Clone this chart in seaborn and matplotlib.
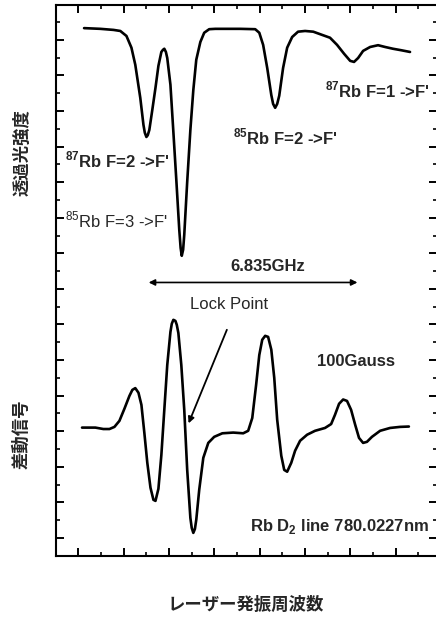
import numpy as np
import matplotlib
matplotlib.use('Agg')
import matplotlib.pyplot as plt
from matplotlib.ticker import MultipleLocator
import seaborn as sns

# transmission spectrum (upper trace), x in minor-tick units, y in major-tick units
trans_x = [1.26, 1.98, 2.56, 2.86, 3.13, 3.35, 3.52, 3.74, 3.88, 3.94,
           4.01, 4.07, 4.14, 4.27, 4.41, 4.54, 4.67, 4.74, 4.80, 4.87,
           4.93, 5.07, 5.20, 5.33, 5.46, 5.52, 5.57, 5.63, 5.68, 5.81,
           5.95, 6.08, 6.21, 6.39, 6.56, 6.78, 7.05, 8.15, 8.81, 8.99,
           9.16, 9.34, 9.52, 9.60, 9.69, 9.78, 9.87, 10.04, 10.22, 10.44,
           10.70, 11.01, 11.37, 11.76, 12.11, 12.42, 12.73, 13.00, 13.17, 13.35,
           13.57, 13.88, 14.23, 14.54, 14.89, 15.24, 15.64]
trans_y = [14.33, 14.31, 14.28, 14.25, 14.11, 13.78, 13.30, 12.37, 11.61, 11.39,
           11.27, 11.32, 11.47, 12.03, 12.65, 13.27, 13.66, 13.72, 13.75, 13.66,
           13.49, 12.74, 11.41, 10.06, 8.66, 8.15, 7.93, 8.10, 8.52, 10.01,
           11.47, 12.59, 13.44, 13.94, 14.20, 14.30, 14.31, 14.31, 14.30, 14.20,
           13.86, 13.21, 12.45, 12.20, 12.09, 12.20, 12.43, 13.21, 13.78, 14.08,
           14.23, 14.25, 14.23, 14.14, 14.06, 13.86, 13.61, 13.41, 13.38, 13.49,
           13.69, 13.80, 13.85, 13.80, 13.75, 13.71, 13.66]

# differential signal (lower trace)
diff_x = [1.17, 1.76, 2.11, 2.38, 2.60, 2.82, 3.04, 3.26, 3.39, 3.52,
          3.66, 3.79, 3.92, 4.05, 4.19, 4.32, 4.41, 4.54, 4.67, 4.80,
          4.93, 5.07, 5.13, 5.20, 5.29, 5.35, 5.42, 5.55, 5.68, 5.81,
          5.95, 6.01, 6.08, 6.15, 6.21, 6.34, 6.52, 6.74, 7.00, 7.36,
          7.84, 8.28, 8.50, 8.68, 8.85, 8.99, 9.12, 9.25, 9.38, 9.52,
          9.65, 9.78, 9.96, 10.09, 10.22, 10.40, 10.57, 10.79, 11.10, 11.45,
          11.89, 12.16, 12.33, 12.51, 12.69, 12.86, 13.04, 13.22, 13.39, 13.57,
          13.74, 13.96, 14.32, 14.76, 15.20, 15.59]
diff_y = [3.10, 3.10, 3.06, 3.06, 3.12, 3.29, 3.63, 3.99, 4.16, 4.21,
          4.08, 3.74, 2.95, 2.11, 1.41, 1.07, 1.04, 1.38, 2.33, 3.60,
          4.86, 5.79, 6.02, 6.13, 6.10, 5.99, 5.76, 4.86, 3.60, 1.91,
          0.56, 0.28, 0.14, 0.25, 0.51, 1.35, 2.25, 2.67, 2.84, 2.94,
          2.96, 2.94, 3.01, 3.37, 4.30, 5.14, 5.57, 5.68, 5.65, 5.29,
          4.50, 3.32, 2.31, 1.91, 1.86, 2.11, 2.45, 2.73, 2.90, 3.01,
          3.09, 3.20, 3.46, 3.77, 3.89, 3.85, 3.60, 3.18, 2.81, 2.67,
          2.70, 2.84, 3.01, 3.09, 3.12, 3.13]

# line labels: (text, x, y, weight)
line_labels = [
    (r"$^{\mathbf{87}}$Rb F=2 ->F'", 0.44, 10.63, 'bold'),
    (r"$^{85}$Rb F=3 ->F'", 0.44, 8.94, 'normal'),
    (r"$^{\mathbf{85}}$Rb F=2 ->F'", 7.84, 11.28, 'bold'),
    (r"$^{\mathbf{87}}$Rb F=1 ->F'", 11.89, 12.59, 'bold'),
]

sns.set_style('ticks')
plt.rcParams['font.family'] = ['Liberation Sans', 'DejaVu Sans']
plt.rcParams['mathtext.fontset'] = 'custom'
plt.rcParams['mathtext.rm'] = 'Liberation Sans'
plt.rcParams['mathtext.bf'] = 'Liberation Sans:bold'
cjk = ['Noto Sans CJK JP', 'DejaVu Sans']

fig = plt.figure(figsize=(4.36, 6.18), dpi=100)
ax = fig.add_axes([0.1273, 0.1003, 0.875, 0.8916])

sns.lineplot(x=trans_x, y=trans_y, ax=ax, color='black', lw=1.9,
             sort=False, estimator=None)
sns.lineplot(x=diff_x, y=diff_y, ax=ax, color='black', lw=1.9,
             sort=False, estimator=None)

ax.set_xlim(0, 16.83)
ax.set_ylim(-0.51, 14.98)

ax.xaxis.set_major_locator(MultipleLocator(2, offset=1))
ax.xaxis.set_minor_locator(MultipleLocator(2))
ax.yaxis.set_major_locator(MultipleLocator(1))
ax.yaxis.set_minor_locator(MultipleLocator(0.5))
ax.tick_params(which='both', direction='in', top=True, right=True,
               labelbottom=False, labelleft=False, color='black')
ax.tick_params(which='major', length=5.8, width=1.4)
ax.tick_params(which='minor', length=3, width=1.2)
for sp in ax.spines.values():
    sp.set_linewidth(1.5)
    sp.set_color('black')

for txt, x, y, w in line_labels:
    ax.text(x, y, txt, fontsize=12, fontweight=w, ha='left', va='center')

# 6.835 GHz splitting
ax.annotate('', xy=(4.11, 7.18), xytext=(13.32, 7.18),
            arrowprops=dict(arrowstyle='<|-|>', lw=1.2, color='black',
                            mutation_scale=9, shrinkA=0, shrinkB=0))
ax.text(9.38, 7.63, '6.835GHz', fontsize=12, fontweight='bold',
        ha='center', va='center')

# lock point
ax.text(7.67, 6.55, 'Lock Point', fontsize=12, ha='center', va='center')
ax.annotate('', xy=(5.87, 3.22), xytext=(7.56, 5.85),
            arrowprops=dict(arrowstyle='-|>', lw=1.3, color='black',
                            mutation_scale=9, shrinkA=0, shrinkB=0))

ax.text(13.26, 4.96, '100Gauss', fontsize=12, fontweight='bold',
        ha='center', va='center')
ax.text(8.59, 0.32, r'Rb D$_{\mathbf{2}}$ line 780.0227nm', fontsize=12,
        fontweight='bold', ha='left', va='center')

fig.text(22 / 436, 1 - 153 / 618, '透過光強度', rotation=90, family=cjk,
         fontsize=12.5, fontweight='bold', ha='center', va='center')
fig.text(22 / 436, 1 - 434 / 618, '差動信号', rotation=90, family=cjk,
         fontsize=12.5, fontweight='bold', ha='center', va='center')
fig.text(246 / 436, 1 - 605 / 618, 'レーザー発振周波数', family=cjk,
         fontsize=12.5, fontweight='bold', ha='center', va='center')

fig.savefig('out.png', dpi=100)
